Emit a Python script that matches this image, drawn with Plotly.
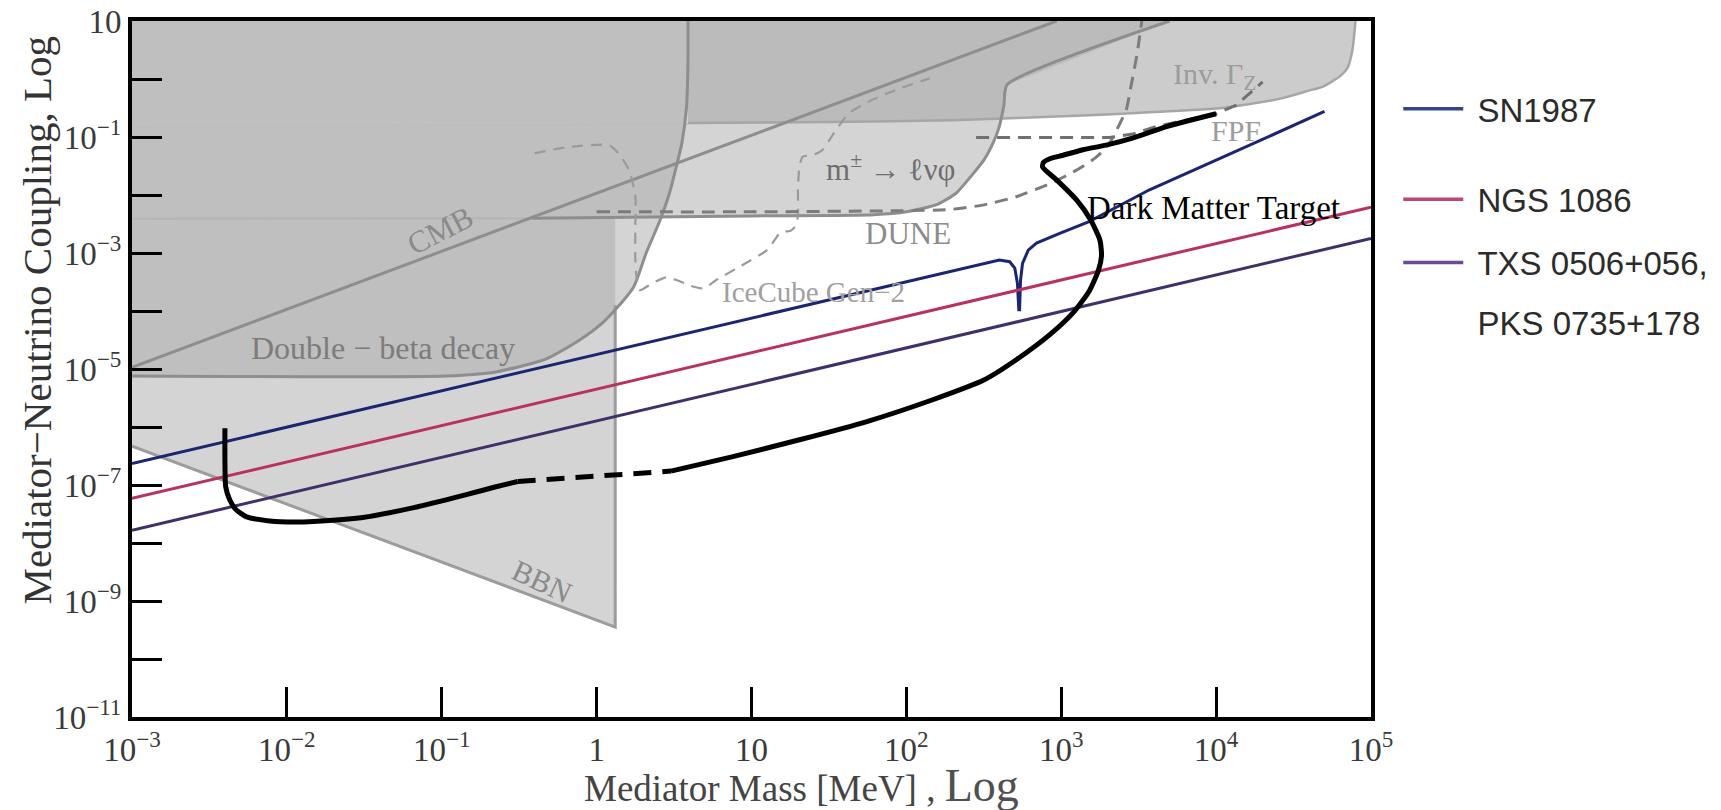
import numpy as np
import plotly.graph_objects as go

# ---------------- data (log10 of mediator mass [MeV], log10 of coupling) ----------------
# excluded / sensitivity regions
bbn_logm = [-3.0, 0.12, 0.12, -3.0]
bbn_logg = [-6.33, -9.45, 1.0, 1.0]

dbeta_logm = [-3.0, -0.97, -0.65, -0.32, -0.11, 0.04, 0.13, 0.24, 0.32, 0.41, 0.47, 0.52, 0.55, 0.58, 0.59, 0.59]
dbeta_logg = [-5.12, -5.12, -5.05, -4.82, -4.50, -4.20, -3.95, -3.58, -3.00, -2.43, -1.97, -1.45, -1.11, -0.50, 0.33, 1.0]

meson_logm = [-0.42, 1.0, 1.79, 2.00, 2.20, 2.32, 2.41, 2.50, 2.56, 2.60, 2.63, 2.65, 3.70]
meson_logg = [-2.40, -2.36, -2.34, -2.29, -2.16, -1.97, -1.70, -1.40, -1.10, -0.82, -0.45, -0.10, 1.0]
meson_fill_left_logm = 0.12

invz_logm = [0.59, 1.5, 2.3, 3.14, 3.6, 4.0, 4.2, 4.43, 4.6, 4.69, 4.8, 4.85, 4.88, 4.90]
invz_logg = [-0.76, -0.74, -0.71, -0.63, -0.57, -0.51, -0.44, -0.33, -0.20, -0.13, 0.05, 0.20, 0.50, 1.0]

faint_meson_logm = [-3.0, -0.42]
faint_meson_logg = [-2.41, -2.40]
faint_invz_logm = [-3.0, 0.59]
faint_invz_logg = [-0.83, -0.78]

cmb_logm = [-3.0, 2.97]
cmb_logg = [-4.97, 1.0]

bbn_edge_logm = [-3.0, 0.12, 0.12]
bbn_edge_logg = [-6.33, -9.45, -3.9]

# dashed projections
dune_logm = [0.0, 1.0, 1.97, 2.28, 2.50, 2.71, 2.93, 3.10, 3.23, 3.31, 3.38, 3.42, 3.45, 3.49, 3.52]
dune_logg = [-2.29, -2.29, -2.27, -2.25, -2.17, -2.03, -1.80, -1.57, -1.34, -1.11, -0.76, -0.53, -0.13, 0.44, 1.0]

fpf_logm = [2.45, 3.31, 3.46, 3.61, 4.00, 4.13, 4.30]
fpf_logg = [-1.01, -1.01, -0.95, -0.82, -0.60, -0.45, -0.05]

icecube_logm = [-0.40, -0.2, 0.08, 0.14, 0.21, 0.25, 0.25, 0.25, 0.26, 0.28, 0.36, 0.45, 0.52, 0.60, 0.69,
                0.77, 0.92, 1.10, 1.19, 1.25, 1.29, 1.30, 1.30, 1.31, 1.33, 1.40, 1.46, 1.53, 1.63, 1.78, 1.96, 2.15]
icecube_logg = [-1.28, -1.18, -1.14, -1.28, -1.57, -2.03, -2.55, -3.12, -3.47, -3.64, -3.52, -3.42, -3.47, -3.56, -3.61,
                -3.47, -3.24, -2.95, -2.64, -2.62, -2.52, -2.30, -1.86, -1.51, -1.34, -1.31, -1.22, -0.94, -0.59, -0.36, -0.16, 0.01]

# Dark Matter Target curve (solid / dashed / solid)
dm1_logm = [-2.40, -2.40, -2.395, -2.37, -2.33, -2.26, -2.11, -1.95, -1.83, -1.51, -1.18, -0.86, -0.65, -0.51]
dm1_logg = [-6.02, -6.60, -7.03, -7.25, -7.42, -7.55, -7.62, -7.64, -7.63, -7.56, -7.39, -7.18, -7.03, -6.94]
dm2_logm = [-0.51, -0.2, 0.1, 0.48]
dm2_logg = [-6.94, -6.89, -6.84, -6.76]
dm3_logm = [0.48, 0.88, 1.31, 1.74, 2.17, 2.50, 2.71, 2.93, 3.08, 3.18, 3.24, 3.26, 3.25, 3.19, 3.10, 2.97,
            2.88, 2.885, 2.93, 2.99, 3.14, 3.29, 3.46, 3.68, 4.00]
dm3_logg = [-6.76, -6.51, -6.22, -5.91, -5.53, -5.19, -4.84, -4.40, -4.02, -3.66, -3.30, -3.05, -2.78, -2.43, -2.09, -1.74,
            -1.52, -1.44, -1.37, -1.33, -1.22, -1.14, -1.02, -0.82, -0.60]

# astrophysical source limits
sn1987_logm = [-3.0, 2.60, 2.667, 2.70, 2.717, 2.726, 2.731, 2.737, 2.75, 2.787, 2.84, 2.99, 3.18, 3.57, 4.00, 4.43, 4.70]
sn1987_logg = [-6.63, -3.12, -3.15, -3.26, -3.52, -3.98, -3.98, -3.47, -3.18, -2.95, -2.83, -2.66, -2.46, -1.91, -1.40, -0.88, -0.56]
ngs_logm = [-3.0, 5.0]
ngs_logg = [-7.23, -2.21]
txs_logm = [-3.0, 5.0]
txs_logg = [-7.78, -2.75]

legend_names = ["SN1987", "NGS 1086", "TXS 0506+056,", "PKS 0735+178"]

x_tickvals_log = [-3, -2, -1, 0, 1, 2, 3, 4, 5]
x_ticktext = ["10<sup>−3</sup>", "10<sup>−2</sup>", "10<sup>−1</sup>", "1", "10",
              "10<sup>2</sup>", "10<sup>3</sup>", "10<sup>4</sup>", "10<sup>5</sup>"]
y_tickvals_log = [1, -1, -3, -5, -7, -9, -11]
y_ticktext = ["10", "10<sup>−1</sup>", "10<sup>−3</sup>", "10<sup>−5</sup>",
              "10<sup>−7</sup>", "10<sup>−9</sup>", "10<sup>−11</sup>"]
y_minor_log = [0, -2, -4, -6, -8, -10]


def P(a):
    return np.power(10.0, np.asarray(a, dtype=float))


SERIF = "Liberation Serif"
fig = go.Figure()

FILL = "rgba(170,170,170,0.5)"


def add_fill(lm, lg, color=FILL):
    fig.add_trace(go.Scatter(x=P(lm), y=P(lg), mode="lines", fill="toself", fillcolor=color,
                             line=dict(width=0), hoverinfo="skip", showlegend=False))


def add_line(lm, lg, color, width, dash="solid", shape="linear"):
    fig.add_trace(go.Scatter(x=P(lm), y=P(lg), mode="lines",
                             line=dict(color=color, width=width, dash=dash, shape=shape, smoothing=0.6),
                             hoverinfo="skip", showlegend=False))


# region fills
add_fill(bbn_logm, bbn_logg)
add_fill(dbeta_logm + [-3.0], dbeta_logg + [1.0])
add_fill([meson_fill_left_logm] + meson_logm[1:] + [meson_fill_left_logm],
         [meson_logg[0]] + meson_logg[1:] + [1.0])
add_fill(invz_logm + [0.59], invz_logg + [1.0], "rgba(170,170,170,0.6)")

# region boundaries
add_line(faint_meson_logm, faint_meson_logg, "#b4b4b4", 2)
add_line(faint_invz_logm, faint_invz_logg, "#bdbdbd", 1.5)
add_line(bbn_edge_logm, bbn_edge_logg, "#9c9c9c", 3)
add_line(invz_logm, invz_logg, "#a6a6a6", 2.5, shape="spline")
add_line(dbeta_logm, dbeta_logg, "#8e8e8e", 3, shape="spline")
add_line(meson_logm, meson_logg, "#8e8e8e", 3, shape="spline")
add_line(cmb_logm, cmb_logg, "#8e8e8e", 3)

# dashed projections
add_line(icecube_logm, icecube_logg, "#9a9a9a", 2.2, dash="11px,8px", shape="spline")
add_line(dune_logm, dune_logg, "#7c7c7c", 3, dash="13px,8px", shape="spline")
add_line(fpf_logm, fpf_logg, "#707070", 3, dash="13px,8px")

# astrophysical limits
add_line(sn1987_logm, sn1987_logg, "#1c2570", 3)
add_line(ngs_logm, ngs_logg, "#b8325f", 3)
add_line(txs_logm, txs_logg, "#40306a", 3)

# dark matter target
add_line(dm1_logm, dm1_logg, "black", 5, shape="spline")
add_line(dm2_logm, dm2_logg, "black", 5, dash="18px,11px")
add_line(dm3_logm, dm3_logg, "black", 5, shape="spline")

# legend entries (last one is the continuation line of the third entry)
leg_colors = ["#34458c", "#c2457a", "#6a4b94", "rgba(0,0,0,0)"]
leg_ids = ["legend", "legend2", "legend3", "legend4"]
for name, col, lg in zip(legend_names, leg_colors, leg_ids):
    fig.add_trace(go.Scatter(x=[None], y=[None], mode="lines", name="\u00a0" + name,
                             line=dict(color=col, width=3.5), legend=lg, showlegend=True))

leg_common = dict(xanchor="left", yanchor="top", bgcolor="rgba(0,0,0,0)", borderwidth=0, itemwidth=60,
                  font=dict(family="Liberation Sans", size=33, color="#2b2b2b"), x=1.022)

annotations = [
    dict(x=-1.01, y=-2.62, text="CMB", textangle=-27, font=dict(family=SERIF, size=31, color="#8a8a8a")),
    dict(x=-1.38, y=-4.63, text="Double − beta decay", font=dict(family=SERIF, size=32, color="#7c7c7c")),
    dict(x=-0.35, y=-8.67, text="BBN", textangle=25, font=dict(family=SERIF, size=30, color="#8a8a8a")),
    dict(x=1.90, y=-1.52, text="m<sup>±</sup> → ℓνφ", font=dict(family=SERIF, size=31, color="#6e6e6e")),
    dict(x=2.01, y=-2.67, text="DUNE", font=dict(family=SERIF, size=31, color="#8c8c8c")),
    dict(x=1.40, y=-3.67, text="IceCube Gen−2", font=dict(family=SERIF, size=29, color="#a0a0a0")),
    dict(x=3.99, y=0.05, text="Inv. Γ<sub>Z</sub>", font=dict(family=SERIF, size=30, color="#9c9c9c")),
    dict(x=4.13, y=-0.88, text="FPF", font=dict(family=SERIF, size=30, color="#9c9c9c")),
    dict(x=3.98, y=-2.22, text="Dark Matter Target", font=dict(family=SERIF, size=33, color="black")),
]
for a in annotations:
    a.update(xref="x", yref="y", showarrow=False, xanchor="center", yanchor="middle")

annotations.append(dict(xref="paper", yref="paper", x=0.540, y=-0.099, showarrow=False,
                        xanchor="center", yanchor="middle",
                        text="Mediator Mass [MeV] , <span style='font-size:46px;color:#505050'>Log</span>",
                        font=dict(family=SERIF, size=37, color="#444444")))
annotations.append(dict(xref="paper", yref="paper", x=-0.0767, y=0.571, showarrow=False,
                        xanchor="center", yanchor="middle", textangle=-90,
                        text="Mediator−Neutrino Coupling, Log",
                        font=dict(family=SERIF, size=41, color="#333333")))

axis_common = dict(type="log", showline=True, linewidth=4, linecolor="black", mirror=True,
                   showgrid=False, zeroline=False, ticks="inside", ticklen=30, tickwidth=3,
                   tickcolor="black", tickfont=dict(family=SERIF, size=33, color="#3a3a3a"))

fig.update_layout(
    width=1721, height=810,
    margin=dict(l=132, r=350, t=21, b=93, autoexpand=False),
    paper_bgcolor="white", plot_bgcolor="white",
    hovermode=False,
    xaxis=dict(range=[-3, 5], tickmode="array", tickvals=list(P(x_tickvals_log)), ticktext=x_ticktext,
               automargin=False, **axis_common),
    yaxis=dict(range=[-11, 1], tickmode="array", tickvals=list(P(y_tickvals_log)), ticktext=y_ticktext,
               automargin=False,
               minor=dict(tickmode="array", tickvals=list(P(y_minor_log)), ticks="inside", ticklen=30,
                          tickwidth=3, tickcolor="black", showgrid=False),
               **axis_common),
    annotations=annotations,
    legend=dict(y=0.914, **leg_common),
    legend2=dict(y=0.784, **leg_common),
    legend3=dict(y=0.693, **leg_common),
    legend4=dict(y=0.607, **leg_common),
)

fig.write_html("out.html")
